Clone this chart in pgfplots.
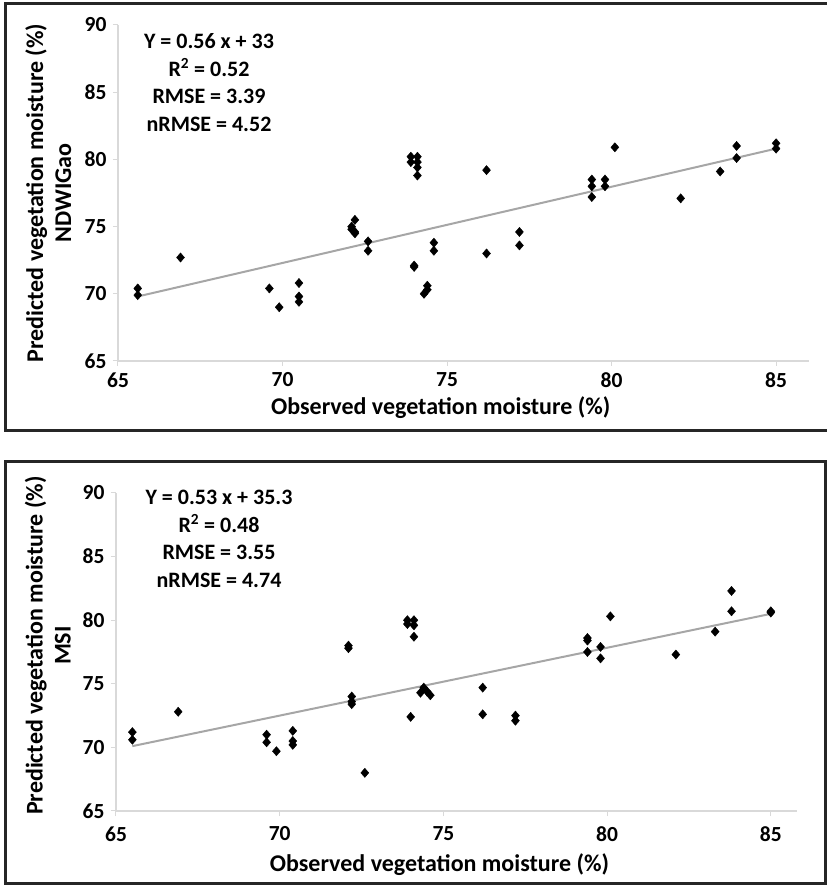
\documentclass[border=0pt]{standalone}
\usepackage{fontspec}
\setmainfont{Carlito}
\usepackage{pgfplots}
\pgfplotsset{compat=1.18}
\definecolor{axisgray}{RGB}{217,217,217}
\definecolor{trendgray}{RGB}{166,166,166}

\pgfplotsset{
  panel/.style={
    scale only axis,
    xmin=65, ymin=65, ymax=90,
    xtick={65,70,...,85}, ytick={65,70,...,90},
    axis x line*=bottom, axis y line*=left,
    axis line style={axisgray, line width=1.5pt},
    tick style={axisgray, line width=1pt},
    major tick length=5pt,
    tick align=outside,
    /pgf/number format/assume math mode=true,
    ticklabel style={font=\fontsize{21.5}{25}\selectfont\bfseries},
    label style={font=\fontsize{24}{28}\selectfont\bfseries, align=center},
    clip=false,
  },
  pts/.style={only marks, mark=diamond*, mark size=4.6pt, black,
    mark options={xscale=1.15}},
  fit/.style={no marks, trendgray, line width=2pt},
}

\begin{document}
\begin{tikzpicture}[x=1pt, y=1pt]
\useasboundingbox (0,0) rectangle (827,886);

% frames
\draw[line width=3pt, black!85] (5,455) rectangle (835,882);
\draw[line width=3pt, black!85] (5,2) rectangle (825,424);

% top panel: NDWI Gao
\begin{axis}[panel,
  at={(118pt,525pt)}, anchor=south west,
  width=691pt, height=336pt, xmax=86,
  xticklabel style={yshift=-3pt},
  yticklabel style={xshift=-3pt},
  xlabel={Observed vegetation moisture (\%)},
  xlabel style={at={(axis description cs:0.467,0)}, anchor=center, yshift=-47pt},
  ylabel={Predicted vegetation moisture (\%)\\NDWIGao},
  ylabel style={at={(axis description cs:-0.101,0.5)}, anchor=center},
]
\addplot[pts] table {
x y
65.6 70.4
65.6 69.9
66.9 72.7
69.6 70.4
69.9 69.0
70.5 70.8
70.5 69.8
70.5 69.4
72.2 75.5
72.1 75.0
72.1 74.8
72.2 74.6
72.2 74.5
72.6 73.9
72.6 73.2
73.9 80.2
73.9 79.8
74.1 80.2
74.1 79.8
74.1 79.4
74.1 78.8
74.0 72.0
74.0 72.1
74.3 70.0
74.4 70.3
74.4 70.6
74.6 73.8
74.6 73.2
76.2 79.2
76.2 73.0
77.2 74.6
77.2 73.6
79.4 78.5
79.4 78.0
79.4 77.2
79.8 78.5
79.8 78.0
80.1 80.9
82.1 77.1
83.3 79.1
83.8 81.0
83.8 80.1
85.0 81.2
85.0 80.8
};
\addplot[fit] coordinates {(65.6,69.8) (85.0,80.8)};
\end{axis}
\node[align=center, font=\fontsize{22}{27.7}\selectfont\bfseries] at (209,803.5)
  {Y = 0.56 x + 33\\R\textsuperscript{2} = 0.52\\RMSE = 3.39\\nRMSE = 4.52};

% bottom panel: MSI
\begin{axis}[panel,
  at={(116pt,75pt)}, anchor=south west,
  width=681pt, height=318pt, xmax=85.8,
  xticklabel style={yshift=-7pt},
  yticklabel style={xshift=-3pt},
  xlabel={Observed vegetation moisture (\%)},
  xlabel style={at={(axis description cs:0.475,0)}, anchor=center, yshift=-54pt},
  ylabel={Predicted vegetation moisture (\%)\\MSI},
  ylabel style={at={(axis description cs:-0.100,0.52)}, anchor=center},
]
\addplot[pts] table {
x y
65.5 71.2
65.5 70.6
66.9 72.8
69.6 71.0
69.6 70.4
69.9 69.7
70.4 71.3
70.4 70.5
70.4 70.2
72.6 68.0
72.1 78.0
72.1 77.8
72.2 74.0
72.2 73.6
72.2 73.4
73.9 80.0
73.9 79.7
74.1 80.0
74.1 79.6
74.1 78.7
74.0 72.4
74.3 74.3
74.4 74.7
74.5 74.4
74.6 74.1
76.2 74.7
76.2 72.6
77.2 72.5
77.2 72.1
79.4 78.6
79.4 78.4
79.4 77.5
79.8 77.9
79.8 77.0
80.1 80.3
82.1 77.3
83.3 79.1
83.8 82.3
83.8 80.7
85.0 80.7
85.0 80.6
};
\addplot[fit] coordinates {(65.5,70.1) (85.0,80.5)};
\end{axis}
\node[align=center, font=\fontsize{22}{27.7}\selectfont\bfseries] at (219,347)
  {Y = 0.53 x + 35.3\\R\textsuperscript{2} = 0.48\\RMSE = 3.55\\nRMSE = 4.74};
\end{tikzpicture}
\end{document}
